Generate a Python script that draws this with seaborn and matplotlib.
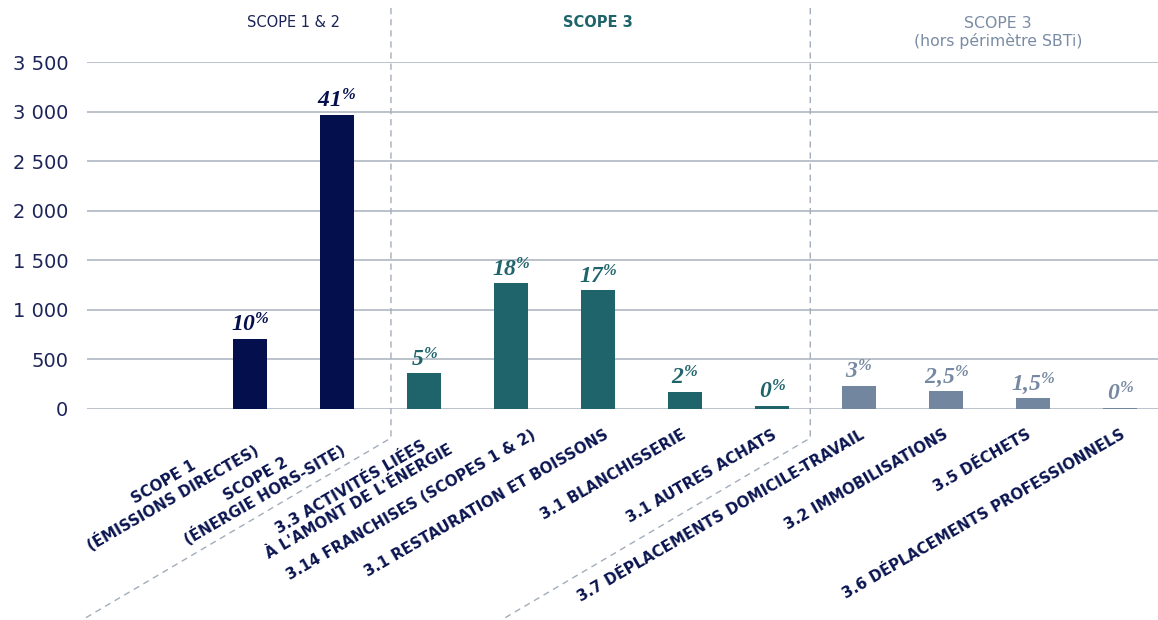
import numpy as np
import pandas as pd
import matplotlib
matplotlib.use("Agg")
import matplotlib.pyplot as plt
import matplotlib.transforms as mtransforms
from matplotlib.lines import Line2D
from matplotlib.ticker import FuncFormatter, MultipleLocator
import seaborn as sns

# ---- data -------------------------------------------------------------
categories = [
    "SCOPE 1\n(ÉMISSIONS DIRECTES)",
    "SCOPE 2\n(ÉNERGIE HORS-SITE)",
    "3.3 ACTIVITÉS LIÉES\nÀ L'AMONT DE L'ÉNERGIE",
    "3.14 FRANCHISES (SCOPES 1 & 2)",
    "3.1 RESTAURATION ET BOISSONS",
    "3.1 BLANCHISSERIE",
    "3.1 AUTRES ACHATS",
    "3.7 DÉPLACEMENTS DOMICILE-TRAVAIL",
    "3.2 IMMOBILISATIONS",
    "3.5 DÉCHETS",
    "3.6 DÉPLACEMENTS PROFESSIONNELS",
]
emissions = [710, 2970, 360, 1270, 1200, 175, 35, 235, 185, 115, 12]
shares = ["10", "41", "5", "18", "17", "2", "0", "3", "2{,}5", "1{,}5", "0"]
groups = ["s12"] * 2 + ["s3"] * 5 + ["hors"] * 4

group_titles = {
    "s12": "SCOPE 1 & 2",
    "s3": "SCOPE 3",
    "hors": "SCOPE 3\n(hors périmètre SBTi)",
}
group_colors = {"s12": "#040f4e", "s3": "#1f646b", "hors": "#72869f"}
label_colors = {"s12": "#040f4e", "s3": "#1f646b", "hors": "#7789a2"}
title_colors = {"s12": "#1b2358", "s3": "#1f646b", "hors": "#7a8ca4"}

# horizontal nudge (points) of each category label, and group separators
label_nudge = [-4, -4, 11, 14, 4, -3, 0, 0, -2, -5, 0]
separators = [1.62, 6.44]

# ---- style ------------------------------------------------------------
sns.set_style("white")
plt.rcParams["font.family"] = ["DejaVu Sans"]
plt.rcParams["mathtext.fontset"] = "custom"
plt.rcParams["mathtext.bfit"] = "Liberation Serif:bold:italic"
plt.rcParams["mathtext.rm"] = "Liberation Serif"
plt.rcParams["mathtext.it"] = "Liberation Serif:italic"
plt.rcParams["mathtext.bf"] = "Liberation Serif:bold"

W, H = 1158, 620
fig = plt.figure(figsize=(W / 100, H / 100), dpi=100)
ax = fig.add_axes([87 / W, 211 / H, 1071 / W, 347 / H])

df = pd.DataFrame({"categorie": categories, "valeur": emissions, "groupe": groups})
sns.barplot(
    data=df, x="categorie", y="valeur", hue="groupe", order=categories,
    palette=group_colors, dodge=False, width=0.4, legend=False,
    saturation=1, linewidth=0, ax=ax,
)

ax.set_xlim(-1.874, 10.437)
ax.set_ylim(0, 3500)
ax.set_xlabel("")
ax.set_ylabel("")
for s in ax.spines.values():
    s.set_visible(False)

ax.yaxis.set_major_locator(MultipleLocator(500))
ax.yaxis.set_major_formatter(
    FuncFormatter(lambda v, p: f"{int(v):,}".replace(",", " "))
)
ax.grid(axis="y", color="#b6bdc8", linewidth=1.3)
ax.grid(axis="x", visible=False)
ax.set_axisbelow(True)

ax.tick_params(axis="y", length=0, pad=13.5, labelsize=14, labelcolor="#1c2459")
ax.tick_params(axis="x", length=0, labelbottom=False)

# slanted category labels under the bars
base = mtransforms.blended_transform_factory(ax.transData, ax.transAxes)
for i, (lab, dx) in enumerate(zip(categories, label_nudge)):
    ax.annotate(
        lab, xy=(i, 0), xycoords=base, xytext=(dx, -13),
        textcoords="offset points", rotation=30, rotation_mode="anchor",
        ha="right", va="top", multialignment="center", fontsize=10.8,
        fontweight="bold", color="#0b1650", linespacing=1.15,
        annotation_clip=False,
    )

# share labels above each bar
for i, (v, s, g) in enumerate(zip(emissions, shares, groups)):
    ax.annotate(
        rf"$\mathbfit{{{s}}}^{{\mathbfit{{\%}}}}$",
        xy=(i, v), xytext=(0, 5), textcoords="offset points",
        ha="center", va="baseline", fontsize=17, color=label_colors[g],
    )

# group headers
for g in ["s12", "s3", "hors"]:
    idx = [i for i, gg in enumerate(groups) if gg == g]
    xc = np.mean(idx)
    two_lines = "\n" in group_titles[g]
    if two_lines:
        xc += 0.1
    ax.text(
        xc, 1.084 if two_lines else 1.115, group_titles[g],
        transform=base, ha="center", va="center",
        fontsize=11.3 if two_lines else 10.5,
        color=title_colors[g], fontweight="bold" if g == "s3" else "normal",
        linespacing=1.15, clip_on=False,
    )

# dashed separators: vertical through the plot, then slanting along the labels
fig.canvas.draw()
ident = mtransforms.IdentityTransform()
slope = np.tan(np.radians(30.5))
for xs in separators:
    xd = ax.transData.transform((xs, 0))[0]
    y_top = H - 8
    y_knee = H - 438
    y_bot = 0
    x_bot = xd - (y_knee - y_bot) / slope
    line = Line2D(
        [xd, xd, x_bot], [y_top, y_knee, y_bot], transform=ident,
        color="#a3adba", linewidth=1.0, linestyle=(0, (4.5, 3.5)),
    )
    fig.add_artist(line)

fig.savefig("out.png", dpi=100, facecolor="white")
